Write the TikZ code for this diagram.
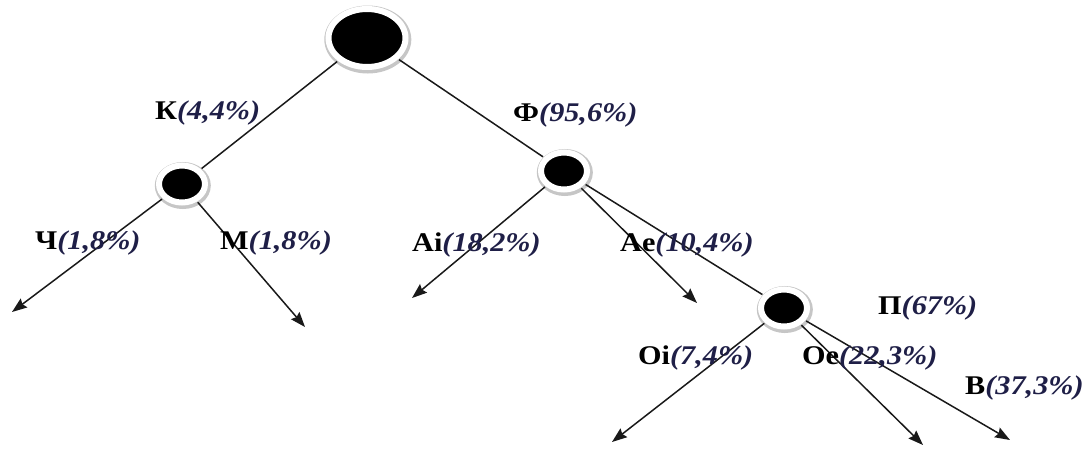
\documentclass[tikz,border=0pt]{standalone}
\usepackage{fontspec}
\setmainfont{Liberation Serif}
\usepackage{graphicx}
\usetikzlibrary{arrows.meta,shapes.geometric}
\definecolor{lblc}{rgb}{0.12,0.12,0.28}
\newcommand{\lbl}[2]{\scalebox{1.12}[1]{#1\textit{\color{lblc}#2}}}
\tikzset{
  dot/.style={ellipse, fill=black, draw=white, line width=6pt, inner sep=0pt, outer sep=4pt,
    preaction={draw=gray!45, line width=10pt, transform canvas={xshift=0.8pt,yshift=-1.5pt}}},
  bigdot/.style={dot, minimum width=77pt, minimum height=58pt},
  smalldot/.style={dot, minimum width=46pt, minimum height=37pt},
  edge/.style={line width=1.5pt, draw=black!90},
  arr/.style={edge, -{Stealth[length=15pt,width=11pt,inset=2pt]}},
  lab/.style={anchor=west, inner sep=0pt, font=\fontsize{27}{29}\selectfont\bfseries}
}
\begin{document}
\begin{tikzpicture}[x=1pt,y=-1pt]
\useasboundingbox (0,0) rectangle (1086,448);
% nodes
\node[bigdot] (root) at (367,38) {};
\node[smalldot] (K) at (182,184) {};
\node[smalldot] (F) at (564,171) {};
\node[smalldot] (P) at (784,308) {};
% free ends
\coordinate (ch) at (12,312);
\coordinate (m) at (305,327);
\coordinate (ai) at (412,298);
\coordinate (ae) at (697,303);
\coordinate (oi) at (612,442);
\coordinate (oe) at (923,445);
\coordinate (b) at (1010,440);
% connectors
\draw[edge] (root) -- (K);
\draw[edge] (root) -- (F);
\draw[edge] (F) -- (P);
\draw[arr] (K) -- (ch);
\draw[arr] (K) -- (m);
\draw[arr] (F) -- (ai);
\draw[arr] (F) -- (ae);
\draw[arr] (P) -- (oi);
\draw[arr] (P) -- (oe);
\draw[arr] (P) -- (b);
% labels
\node[lab] (lk) at (155,113) {\lbl{К}{(4,4\%)}};
\node[lab] (lf) at (513,115) {\lbl{Ф}{(95,6\%)}};
\node[lab] (lch) at (35,243) {\lbl{Ч}{(1,8\%)}};
\node[lab] (lm) at (220,243) {\lbl{М}{(1,8\%)}};
\node[lab] (lai) at (412,245) {\lbl{Ai}{(18,2\%)}};
\node[lab] (lae) at (620,245) {\lbl{Ae}{(10,4\%)}};
\node[lab] (lp) at (878,308) {\lbl{П}{(67\%)}};
\node[lab] (loi) at (638,358) {\lbl{Oi}{(7,4\%)}};
\node[lab] (loe) at (802,358) {\lbl{Oe}{(22,3\%)}};
\node[lab] (lb) at (965,388) {\lbl{В}{(37,3\%)}};
\end{tikzpicture}
\end{document}
